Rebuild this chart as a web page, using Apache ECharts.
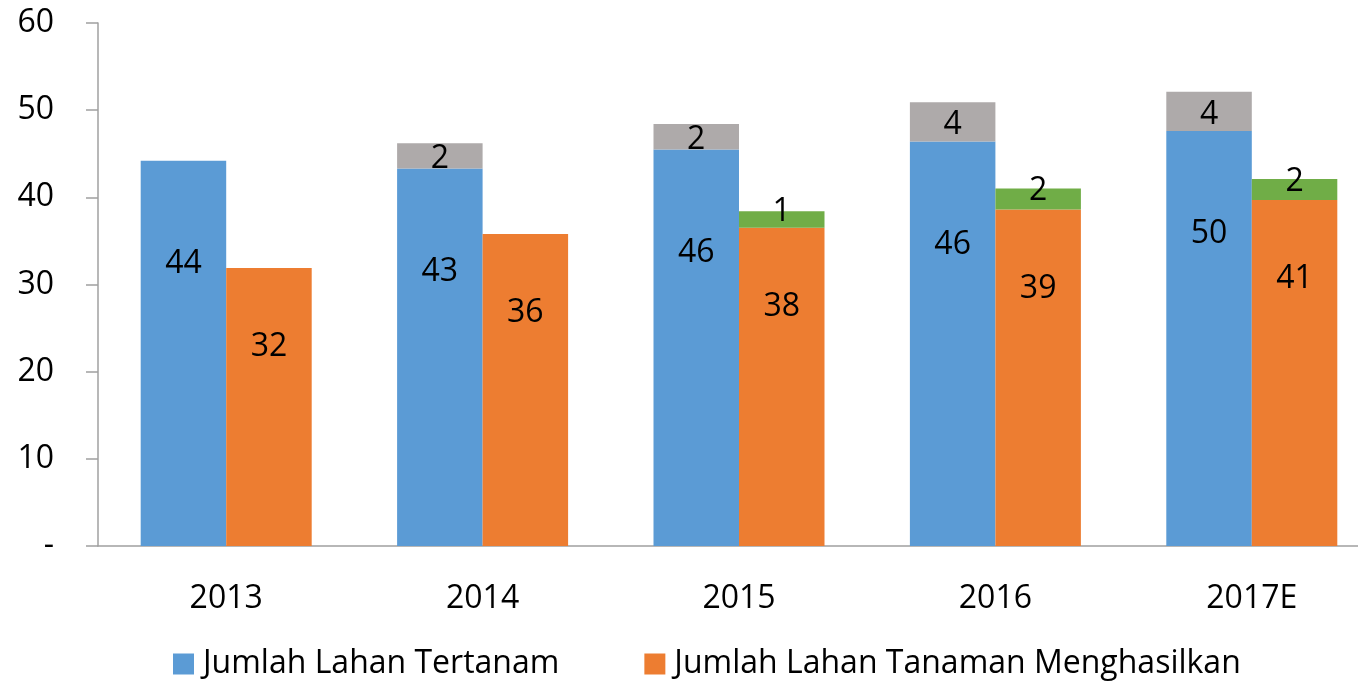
<!DOCTYPE html>
<html>
<head>
<meta charset="utf-8">
<script src="https://cdn.jsdelivr.net/npm/echarts@6/dist/echarts.min.js"></script>
<style>
html,body{margin:0;padding:0;background:#fff;}
#chart{width:1358px;height:682px;}
</style>
</head>
<body>
<div id="chart"></div>
<script>
// ---- data ----
const categories = ['2013', '2014', '2015', '2016', '2017E'];
const plantedValues = [44.2, 43.3, 45.5, 46.4, 47.6];
const plantedExtra = [null, 2.9, 2.9, 4.5, 4.5];
const matureValues = [31.9, 35.8, 36.5, 38.6, 39.7];
const matureExtra = [null, null, 1.9, 2.4, 2.4];
const plantedLabels = [44, 43, 46, 46, 50];
const plantedExtraLabels = [null, 2, 2, 4, 4];
const matureLabels = [32, 36, 38, 39, 41];
const matureExtraLabels = [null, null, 1, 2, 2];
const seriesNames = ['Jumlah Lahan Tertanam', 'Jumlah Lahan Tanaman Menghasilkan'];
const yTicks = { min: 0, max: 60, step: 10 };

const FONT = "'Open Sans', 'Noto Sans', sans-serif";
const labelStyle = { color: '#000', fontSize: 32, fontFamily: FONT };
function fromArr(arr) { return p => (arr[p.dataIndex] == null ? '' : String(arr[p.dataIndex])); }

const chart = echarts.init(document.getElementById('chart'), null, { renderer: 'canvas' });
chart.setOption({
  animation: false,
  backgroundColor: '#fff',
  grid: { left: 98, right: -22, top: 23, bottom: 136, containLabel: false, outerBoundsMode: 'none' },
  legend: {
    data: seriesNames,
    left: 168, top: 643,
    icon: 'rect', itemWidth: 21, itemHeight: 21, itemGap: 85,
    textStyle: { color: '#000', fontSize: 32, fontFamily: FONT, padding: [0, 0, 0, 4] }
  },
  xAxis: {
    type: 'category', data: categories,
    axisLine: { lineStyle: { color: '#a0a0a0', width: 1.5 } },
    axisTick: { show: false },
    axisLabel: { color: '#000', fontSize: 32, fontFamily: FONT, margin: 37 },
    splitLine: { show: false }
  },
  yAxis: {
    type: 'value', min: yTicks.min, max: yTicks.max, interval: yTicks.step,
    axisLine: { show: true, lineStyle: { color: '#a0a0a0', width: 1.5 } },
    axisTick: { show: true, length: 12, lineStyle: { color: '#a0a0a0', width: 1.5 } },
    axisLabel: { color: '#000', fontSize: 32, fontFamily: FONT, margin: 44,
      formatter: v => (v === 0 ? '-' : String(v)) },
    splitLine: { show: false }
  },
  series: [
    { name: seriesNames[0], type: 'bar', stack: 'planted', data: plantedValues,
      barWidth: 85.5, barGap: '0%',
      itemStyle: { color: '#5B9BD5' },
      label: { show: true, position: 'insideTop', offset: [0, 82], formatter: fromArr(plantedLabels), ...labelStyle } },
    { name: 'planted-extra', type: 'bar', stack: 'planted', data: plantedExtra,
      barWidth: 85.5, barGap: '0%',
      itemStyle: { color: '#AEAAAA' },
      label: { show: true, position: 'inside', offset: [0, 3], formatter: fromArr(plantedExtraLabels), ...labelStyle } },
    { name: seriesNames[1], type: 'bar', stack: 'mature', data: matureValues,
      barWidth: 85.5, barGap: '0%',
      itemStyle: { color: '#ED7D31' },
      label: { show: true, position: 'insideTop', offset: [0, 58], formatter: fromArr(matureLabels), ...labelStyle } },
    { name: 'mature-extra', type: 'bar', stack: 'mature', data: matureExtra,
      barWidth: 85.5, barGap: '0%',
      itemStyle: { color: '#70AD47' },
      label: { show: true, position: 'inside', offset: [0, -8], formatter: fromArr(matureExtraLabels), ...labelStyle } }
  ]
});
</script>
</body>
</html>
